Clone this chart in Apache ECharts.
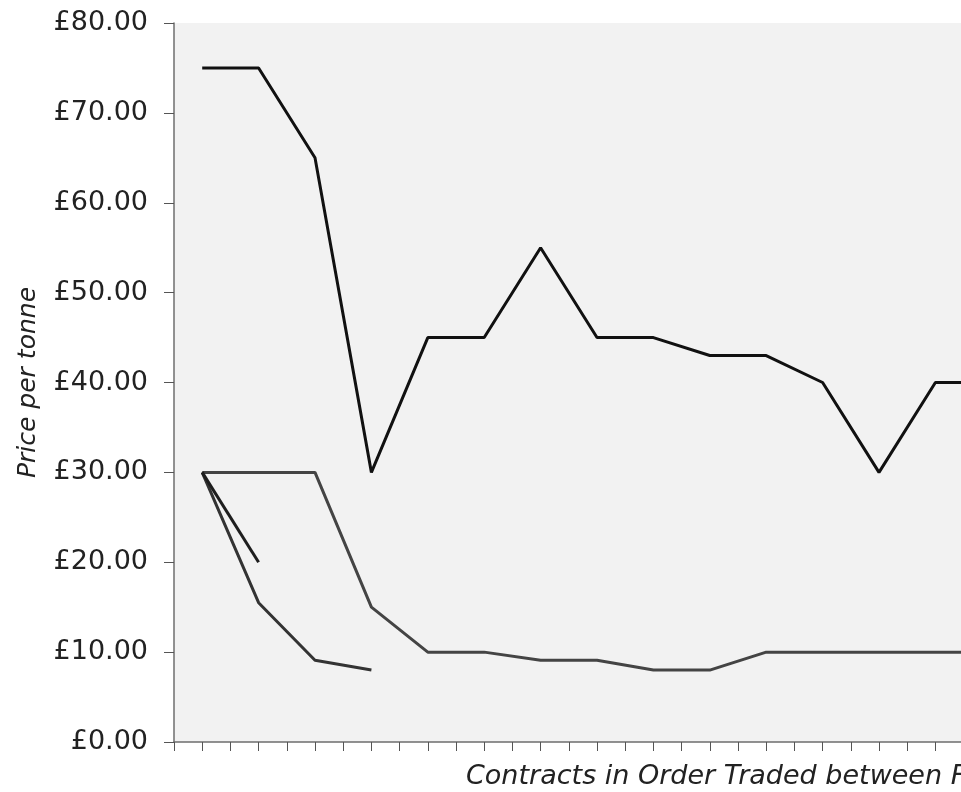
<!DOCTYPE html>
<html>
<head>
<meta charset="utf-8">
<script src="https://cdn.jsdelivr.net/npm/echarts@6/dist/echarts.min.js"></script>
<style>
html,body{margin:0;padding:0;background:#fff;}
#chart{width:961px;height:792px;}
</style>
</head>
<body>
<div id="chart"></div>
<script>
// Contract order number (x) and prices per tonne for each trading line
var contracts = [1, 2, 3, 4, 5, 6, 7, 8, 9, 10, 11, 12, 13, 14, 15];
var seriesA = [75, 75, 65, 30, 45, 45, 55, 45, 45, 43, 43, 40, 30, 40, 40];
var seriesB = [30, 30, 30, 15, 10, 10, 9.1, 9.1, 8, 8, 10, 10, 10, 10, 10];
var seriesC = [30, 15.5, 9.1, 8];
var seriesD = [30, 20];
var yTicks = [0, 10, 20, 30, 40, 50, 60, 70, 80];
var yTitle = 'Price per tonne';
var xTitle = 'Contracts in Order Traded between F';

function pairs(vals) {
  return vals.map(function (v, i) { return [contracts[i], v]; });
}

var chart = echarts.init(document.getElementById('chart'));
var font = 'DejaVu Sans';
chart.setOption({
  animation: false,
  backgroundColor: '#ffffff',
  title: {
    text: xTitle,
    left: 461,
    top: 758,
    textStyle: { fontFamily: font, fontStyle: 'italic', fontWeight: 'normal', fontSize: 27, color: '#222' }
  },
  grid: {
    left: 174, top: 23, width: 846, height: 719,
    outerBoundsMode: 'none',
    containLabel: false,
    show: true, backgroundColor: '#f2f2f2', borderWidth: 0
  },
  xAxis: {
    type: 'value',
    min: 0.5, max: 15.5, interval: 0.5,
    axisLine: { show: true, onZero: false, lineStyle: { color: '#6e6e6e', width: 1.5 } },
    axisTick: { show: true, inside: false, length: 9, lineStyle: { color: '#555', width: 1 } },
    axisLabel: { show: false },
    splitLine: { show: false }
  },
  yAxis: {
    type: 'value',
    min: yTicks[0], max: yTicks[yTicks.length - 1], interval: 10,
    name: yTitle,
    nameLocation: 'middle',
    nameGap: 133,
    nameRotate: 90,
    nameTextStyle: { fontFamily: font, fontStyle: 'italic', fontSize: 25, color: '#222' },
    axisLine: { show: true, lineStyle: { color: '#6e6e6e', width: 1.5 } },
    axisTick: { show: true, inside: false, length: 10, lineStyle: { color: '#555', width: 1 } },
    axisLabel: {
      margin: 26,
      fontFamily: font, fontSize: 27, color: '#222',
      formatter: function (v) { return '£' + v.toFixed(2); }
    },
    splitLine: { show: false }
  },
  series: [
    { type: 'line', data: pairs(seriesB), showSymbol: false, lineStyle: { color: '#444444', width: 3 }, z: 2 },
    { type: 'line', data: pairs(seriesC), showSymbol: false, lineStyle: { color: '#333333', width: 3 }, z: 3 },
    { type: 'line', data: pairs(seriesA), showSymbol: false, lineStyle: { color: '#111111', width: 3 }, z: 4 },
    { type: 'line', data: pairs(seriesD), showSymbol: false, lineStyle: { color: '#1e1e1e', width: 3 }, z: 5 }
  ]
});
</script>
</body>
</html>
